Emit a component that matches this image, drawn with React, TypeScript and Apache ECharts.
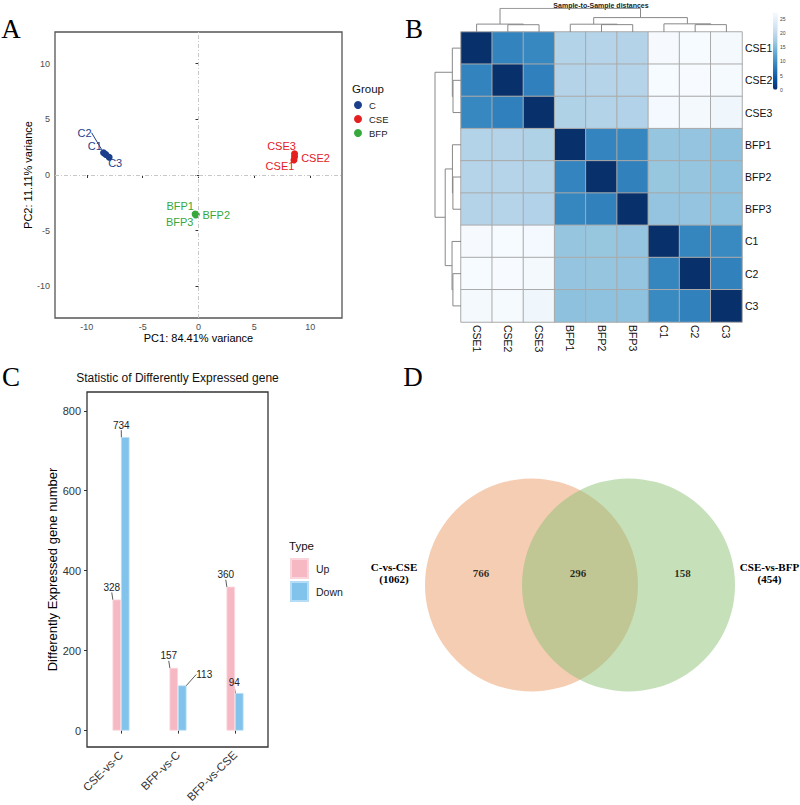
import React, { useEffect, useRef } from "react";
import * as echarts from "echarts";

// ---------- Panel A: PCA ----------
const pcaSamples = ["C1", "C2", "C3", "CSE1", "CSE2", "CSE3", "BFP1", "BFP2", "BFP3"];
const pcaGroup = ["C", "C", "C", "CSE", "CSE", "CSE", "BFP", "BFP", "BFP"];
const pc1Values = [-8.3, -8.5, -8.0, 8.55, 8.6, 8.6, -0.3, -0.2, -0.25];
const pc2Values = [1.85, 2.0, 1.6, 1.35, 1.65, 1.9, -3.5, -3.55, -3.6];
const groupNames = ["C", "CSE", "BFP"];
const pcaTicks = [-10, -5, 0, 5, 10];
const pc1Label = "PC1: 84.41% variance";
const pc2Label = "PC2: 11.11% variance";

// ---------- Panel B: sample-to-sample distances ----------
const sampleOrder = ["CSE1", "CSE2", "CSE3", "BFP1", "BFP2", "BFP3", "C1", "C2", "C3"];
const distCSE1 = [0, 8.6, 9.0, 18.6, 18.8, 18.7, 26.8, 26.9, 26.6];
const distCSE2 = [8.6, 0, 8.3, 18.7, 18.9, 18.8, 26.9, 27.0, 26.7];
const distCSE3 = [9.0, 8.3, 0, 18.4, 18.6, 18.5, 26.5, 26.6, 25.9];
const distBFP1 = [18.6, 18.7, 18.4, 0, 8.7, 8.9, 16.3, 16.2, 15.8];
const distBFP2 = [18.8, 18.9, 18.6, 8.7, 0, 8.4, 16.4, 16.3, 15.9];
const distBFP3 = [18.7, 18.8, 18.5, 8.9, 8.4, 0, 16.2, 16.2, 15.9];
const distC1 = [26.8, 26.9, 26.5, 16.3, 16.4, 16.2, 0, 8.8, 9.3];
const distC2 = [26.9, 27.0, 26.6, 16.2, 16.3, 16.2, 8.8, 0, 8.4];
const distC3 = [26.6, 26.7, 25.9, 15.8, 15.9, 15.9, 9.3, 8.4, 0];
const distanceMatrix = [distCSE1, distCSE2, distCSE3, distBFP1, distBFP2, distBFP3, distC1, distC2, distC3];
const distanceTicks = [0, 5, 10, 15, 20, 25];
const heatmapTitle = "Sample-to-Sample distances";

// ---------- Panel C: DEG counts ----------
const degComparisons = ["CSE-vs-C", "BFP-vs-C", "BFP-vs-CSE"];
const degUp = [328, 157, 360];
const degDown = [734, 113, 94];
const degTicks = [0, 200, 400, 600, 800];
const degTitle = "Statistic of Differently Expressed gene";
const degYLabel = "Differently Expressed gene number";

// ---------- Panel D: Venn ----------
const vennSets = ["C-vs-CSE", "CSE-vs-BFP"];
const vennOnly = [766, 158];
const vennShared = 296;

// ---------- styles / layout ----------
const SANS = "'Liberation Sans', Arial, sans-serif";
const SERIF = "'Liberation Serif', 'Times New Roman', serif";
const groupColors: Record<string, string> = { C: "#1C3F8C", CSE: "#E3201F", BFP: "#37A83C" };
const pcaNudge: Record<string, [number, number]> = {
  C1: [-11, -8], C2: [-19, -20], C3: [6, 6],
  CSE1: [-14, 6], CSE2: [21, 1.5], CSE3: [-13, -8],
  BFP1: [-15, -8], BFP2: [20, 0], BFP3: [-16, 7],
};
const degNudgeUp = [[-5, -7], [-5, -7], [-5, -7]];
const degNudgeDown = [[-4, -7], [22, -6], [-5, -6]];
const blues = ["#08306B", "#08519C", "#2171B5", "#4292C6", "#6BAED6", "#9ECAE1", "#C6DBEF", "#DEEBF7", "#F7FBFF"];
const vennCenterX = [0, 0.911];
const vennLabelX = [-0.474, 0.437, 1.418];
const vennLabelY = 0.113;

function completeLinkage(m: number[][]) {
  type Node = { members: number[]; pos: number; h: number };
  let clusters: Node[] = m.map((_, i) => ({ members: [i], pos: i + 0.5, h: 0 }));
  const segs: number[][][] = [];
  let rootH = 0;
  while (clusters.length > 1) {
    let bi = 0, bj = 1, bd = Infinity;
    for (let i = 0; i < clusters.length; i++) {
      for (let j = i + 1; j < clusters.length; j++) {
        let d = 0;
        for (const a of clusters[i].members) for (const b of clusters[j].members) d = Math.max(d, m[a][b]);
        if (d < bd) { bd = d; bi = i; bj = j; }
      }
    }
    const a = clusters[bi], b = clusters[bj];
    segs.push([[a.pos, a.h], [a.pos, bd], [b.pos, bd], [b.pos, b.h]]);
    const node = { members: [...a.members, ...b.members], pos: (a.pos + b.pos) / 2, h: bd };
    clusters = clusters.filter((_, k) => k !== bi && k !== bj);
    clusters.push(node);
    rootH = bd;
  }
  return { segs, rootH };
}

function buildOption() {
  const distMax = Math.max(...distanceMatrix.map((r) => Math.max(...r)));
  const tree = completeLinkage(distanceMatrix);
  const heatData: number[][] = [];
  distanceMatrix.forEach((row, yi) => row.forEach((v, xi) => heatData.push([xi, yi, v])));

  const pcaSeries = groupNames.map((g) => {
    const idx = pcaSamples.map((_, i) => i).filter((i) => pcaGroup[i] === g);
    const names = idx.map((i) => pcaSamples[i]);
    return {
      type: "scatter",
      name: g,
      xAxisIndex: 0,
      yAxisIndex: 0,
      symbolSize: 7,
      itemStyle: { color: groupColors[g], opacity: 1 },
      label: {
        show: true,
        position: "inside",
        formatter: "{b}",
        color: groupColors[g],
        fontSize: 11,
        fontFamily: SANS,
      },
      labelLine: { show: false },
      labelLayout: (p: any) => {
        const n = pcaNudge[names[p.dataIndex]];
        return { dx: n[0], dy: n[1] };
      },
      data: idx.map((i) => ({
        name: pcaSamples[i],
        value: [pc1Values[i], pc2Values[i]],
        labelLine: pcaSamples[i] === "C2" ? { show: true, lineStyle: { color: groupColors[g], width: 1 } } : { show: false },
      })),
      markLine:
        g === "C"
          ? {
              silent: true,
              symbol: "none",
              label: { show: false },
              lineStyle: { color: "#c8c8c8", type: [4, 2, 1, 2], width: 1 },
              data: [{ xAxis: 0 }, { yAxis: 0 }],
            }
          : undefined,
      z: 3,
    };
  });

  const hidden = { show: false };
  const noGrid = { outerBoundsMode: "none", containLabel: false };

  return {
    animation: false,
    textStyle: { fontFamily: SANS },
    grid: [
      { left: 55, top: 32, width: 287, height: 286, show: true, borderColor: "#555", borderWidth: 1.3, ...noGrid },
      { left: 461, top: 32, width: 281, height: 290, ...noGrid },
      { left: 461, top: 8.3, width: 281, height: 23.7, ...noGrid },
      { left: 435, top: 32, width: 26, height: 290, ...noGrid },
      { left: 776, top: 13, width: 1, height: 76.8, ...noGrid },
      { left: 92.5, top: 392, width: 171, height: 355, ...noGrid },
      { left: 425, top: 478.5, width: 310, height: 213, ...noGrid },
      { left: 87, top: 392, width: 181, height: 355, show: true, borderColor: "#333", borderWidth: 1.3, ...noGrid },
    ],
    xAxis: [
      {
        type: "value", gridIndex: 0, min: -12.85, max: 12.85,
        name: pc1Label, nameLocation: "middle", nameGap: 14,
        nameTextStyle: { fontSize: 11, color: "#000", fontFamily: SANS },
        axisLine: hidden, splitLine: hidden,
        axisTick: { show: true, length: 3, customValues: pcaTicks, lineStyle: { color: "#333" } },
        axisLabel: { customValues: pcaTicks, fontSize: 9, color: "#4d4d4d", margin: 4 },
      },
      {
        type: "category", gridIndex: 1, data: sampleOrder,
        axisLine: hidden, axisTick: hidden, splitLine: hidden,
        axisLabel: { rotate: -90, fontSize: 10.5, color: "#111", margin: 3, interval: 0 },
      },
      { type: "value", gridIndex: 2, min: 0, max: sampleOrder.length, show: false },
      { type: "value", gridIndex: 3, min: 0, max: tree.rootH, inverse: true, show: false },
      { type: "value", gridIndex: 4, show: false },
      {
        type: "category", gridIndex: 5, data: degComparisons,
        axisLine: hidden, splitLine: hidden,
        axisTick: { show: true, alignWithLabel: true, length: 3, lineStyle: { color: "#333" } },
        axisLabel: { rotate: 45, fontSize: 11.5, color: "#333", margin: 6, interval: 0 },
      },
      { type: "value", gridIndex: 6, min: -1, max: 1.911, show: false },
      { type: "value", gridIndex: 7, show: false },
    ],
    yAxis: [
      {
        type: "value", gridIndex: 0, min: -12.85, max: 12.85,
        name: pc2Label, nameLocation: "middle", nameGap: 21,
        nameTextStyle: { fontSize: 11, color: "#000", fontFamily: SANS },
        axisLine: hidden, splitLine: hidden,
        axisTick: { show: true, length: 3, customValues: pcaTicks, lineStyle: { color: "#333" } },
        axisLabel: { customValues: pcaTicks, fontSize: 9, color: "#4d4d4d", margin: 5 },
      },
      {
        type: "category", gridIndex: 1, data: sampleOrder, inverse: true, position: "right",
        axisLine: hidden, axisTick: hidden, splitLine: hidden,
        axisLabel: { fontSize: 10.5, color: "#111", margin: 3, interval: 0 },
      },
      { type: "value", gridIndex: 2, min: 0, max: tree.rootH, show: false },
      { type: "value", gridIndex: 3, min: 0, max: sampleOrder.length, inverse: true, show: false },
      {
        type: "value", gridIndex: 4, min: 0, max: distMax, position: "right",
        axisLine: hidden, axisTick: hidden, splitLine: hidden,
        axisLabel: { customValues: distanceTicks, fontSize: 5, color: "#444", margin: 3 },
      },
      {
        type: "value", gridIndex: 5, min: -41, max: 847, offset: 5.5,
        name: degYLabel, nameLocation: "middle", nameGap: 27.5,
        nameTextStyle: { fontSize: 13, color: "#000", fontFamily: SANS },
        axisLine: hidden, splitLine: hidden,
        axisTick: { show: true, length: 3, customValues: degTicks, lineStyle: { color: "#333" } },
        axisLabel: { customValues: degTicks, fontSize: 11, color: "#333", margin: 6 },
      },
      { type: "value", gridIndex: 6, min: -1, max: 1, show: false },
      { type: "value", gridIndex: 7, show: false },
    ],
    visualMap: [
      {
        type: "continuous", seriesIndex: 3, dimension: 2, min: 0, max: distMax,
        inRange: { color: blues }, calculable: false, orient: "vertical",
        left: 773, top: 13, itemWidth: 4.5, itemHeight: 76.8, padding: 0,
        textStyle: { fontSize: 5 },
      },
    ],
    legend: [
      {
        data: groupNames, orient: "vertical", left: 354, top: 100,
        itemWidth: 8, itemHeight: 8, itemGap: 4, icon: "circle", padding: 0,
        textStyle: { fontSize: 9.5, color: "#222", padding: [0, 0, 0, 2] },
        selectedMode: false,
      },
      {
        data: ["Up", "Down"], orient: "vertical", left: 290, top: 558,
        itemWidth: 17, itemHeight: 19, itemGap: 2, icon: "rect", padding: 0,
        textStyle: { fontSize: 10.5, color: "#222", padding: [0, 0, 0, 3] },
        selectedMode: false,
      },
    ],
    series: [
      ...pcaSeries,
      {
        type: "heatmap", xAxisIndex: 1, yAxisIndex: 1, data: heatData,
        itemStyle: { borderColor: "#aaaaaa", borderWidth: 1 },
        label: { show: false }, silent: true,
      },
      {
        type: "lines", coordinateSystem: "cartesian2d", xAxisIndex: 2, yAxisIndex: 2,
        polyline: true, silent: true,
        lineStyle: { color: "#888", width: 1, opacity: 1 },
        data: tree.segs.map((c) => ({ coords: c })),
      },
      {
        type: "lines", coordinateSystem: "cartesian2d", xAxisIndex: 3, yAxisIndex: 3,
        polyline: true, silent: true,
        lineStyle: { color: "#888", width: 1, opacity: 1 },
        data: tree.segs.map((c) => ({ coords: c.map((p) => [p[1], p[0]]) })),
      },
      {
        type: "bar", name: "Up", xAxisIndex: 5, yAxisIndex: 5, data: degUp,
        barWidth: 8.5, barGap: "0%",
        itemStyle: { color: "#F6B9C4", borderColor: "#FBD5DC", borderWidth: 0.8 },
        label: { show: true, position: "top", distance: 0, fontSize: 10, color: "#222" },
        labelLine: { show: true, lineStyle: { color: "#333", width: 0.8 } },
        labelLayout: (p: any) => ({ dx: degNudgeUp[p.dataIndex][0], dy: degNudgeUp[p.dataIndex][1] }),
      },
      {
        type: "bar", name: "Down", xAxisIndex: 5, yAxisIndex: 5, data: degDown,
        barWidth: 8.5, barGap: "0%",
        itemStyle: { color: "#82C3EC", borderColor: "#B6DDF5", borderWidth: 0.8 },
        label: { show: true, position: "top", distance: 0, fontSize: 10, color: "#222" },
        labelLine: { show: true, lineStyle: { color: "#333", width: 0.8 } },
        labelLayout: (p: any) => ({ dx: degNudgeDown[p.dataIndex][0], dy: degNudgeDown[p.dataIndex][1] }),
      },
      {
        type: "scatter", xAxisIndex: 6, yAxisIndex: 6, symbolSize: 213, silent: true,
        itemStyle: { opacity: 0.5 },
        data: [
          { name: vennSets[0], value: [vennCenterX[0], 0], itemStyle: { color: "#EB9B65" } },
          { name: vennSets[1], value: [vennCenterX[1], 0], itemStyle: { color: "#8DC175" } },
        ],
      },
      {
        type: "scatter", xAxisIndex: 6, yAxisIndex: 6, symbolSize: 1, silent: true,
        itemStyle: { color: "transparent" },
        label: {
          show: true, position: "inside", formatter: "{b}", color: "#000",
          fontFamily: SERIF, fontWeight: "bold", fontSize: 11,
        },
        data: [
          { name: String(vennOnly[0]), value: [vennLabelX[0], vennLabelY] },
          { name: String(vennShared), value: [vennLabelX[1], vennLabelY] },
          { name: String(vennOnly[1]), value: [vennLabelX[2], vennLabelY] },
        ],
        z: 5,
      },
    ],
    graphic: [
      ...[["A", 11, 29], ["B", 414, 29], ["C", 11, 377], ["D", 413, 377]].map(([t, x, y]) => ({
        type: "text", x, y,
        style: { text: t, fontFamily: SERIF, fontSize: 27, fill: "#000", align: "center", verticalAlign: "middle" },
      })),
      {
        type: "text", x: 352, y: 89,
        style: { text: "Group", fontFamily: SANS, fontSize: 11.5, fill: "#111", align: "left", verticalAlign: "middle" },
      },
      {
        type: "text", x: 289, y: 546,
        style: { text: "Type", fontFamily: SANS, fontSize: 11.5, fill: "#111", align: "left", verticalAlign: "middle" },
      },
      {
        type: "text", x: 177.5, y: 378,
        style: { text: degTitle, fontFamily: SANS, fontSize: 12, fill: "#111", align: "center", verticalAlign: "middle" },
      },
      {
        type: "text", x: 601, y: 5,
        style: { text: heatmapTitle, fontFamily: SANS, fontSize: 7, fontWeight: "bold", fill: "#222", align: "center", verticalAlign: "middle" },
      },
      {
        type: "text", x: 394, y: 573,
        style: {
          text: `${vennSets[0]}\n(${vennOnly[0] + vennShared})`, fontFamily: SERIF, fontWeight: "bold",
          fontSize: 11, lineHeight: 12.5, fill: "#000", align: "center", verticalAlign: "middle",
        },
      },
      {
        type: "text", x: 769.5, y: 573,
        style: {
          text: `${vennSets[1]}\n(${vennOnly[1] + vennShared})`, fontFamily: SERIF, fontWeight: "bold",
          fontSize: 11, lineHeight: 12.5, fill: "#000", align: "center", verticalAlign: "middle",
        },
      },
    ],
  };
}

export default function App() {
  const ref = useRef<HTMLDivElement>(null);
  useEffect(() => {
    document.body.style.margin = "0";
    const chart = echarts.init(ref.current as HTMLDivElement, null, { renderer: "svg" });
    chart.setOption(buildOption() as any);
    return () => chart.dispose();
  }, []);
  return <div ref={ref} style={{ width: 800, height: 805 }} />;
}
